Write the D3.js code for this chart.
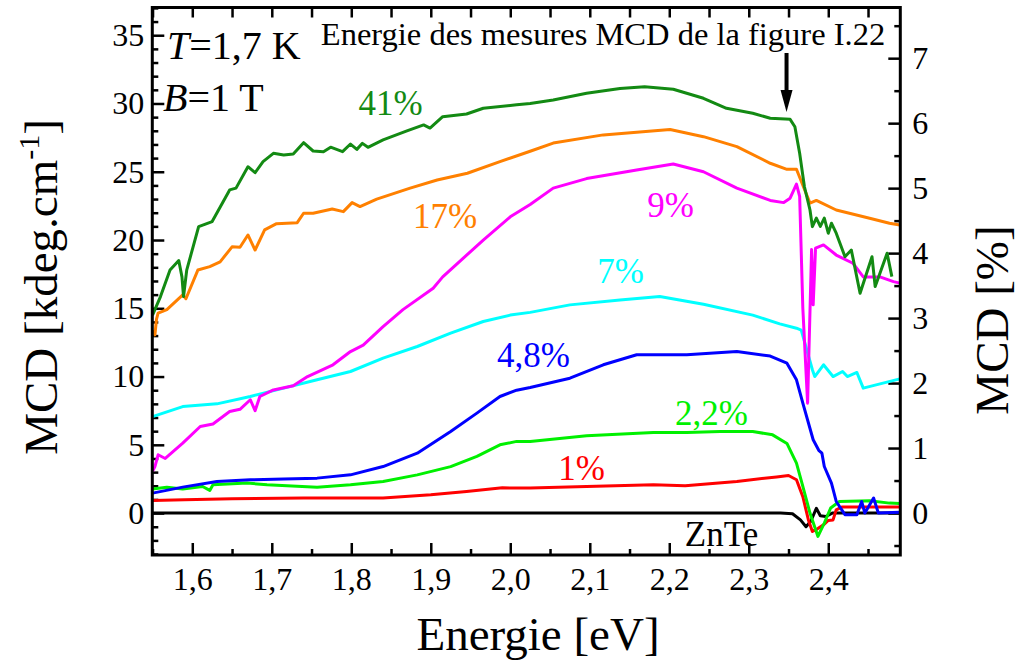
<!DOCTYPE html>
<html><head><meta charset="utf-8">
<script src="https://cdn.jsdelivr.net/npm/d3@7"></script>
<style>
html,body{margin:0;padding:0;background:#fff;}
svg{display:block;}
text{font-family:"Liberation Serif","Times New Roman",serif;fill:#000;}
</style></head>
<body><svg id="c" width="1017" height="664"></svg>
<script>
// ---------- data ----------
const xTicks = [1.6,1.7,1.8,1.9,2.0,2.1,2.2,2.3,2.4];
const xTickLabels = ["1,6","1,7","1,8","1,9","2,0","2,1","2,2","2,3","2,4"];
const yTicksLeft = [0,5,10,15,20,25,30,35];
const yTicksRight = [0,1,2,3,4,5,6,7];

const eZnTe = [1.55,2.34,2.355,2.365,2.372,2.378,2.385,2.39,2.397,2.405,2.49];
const vZnTe = [0,0,-0.05,-0.5,-1.0,-0.6,0.35,-0.2,-0.25,0,0];

const e1 = [1.55,1.59,1.65,1.74,1.84,1.9,1.945,1.99,2.025,2.096,2.18,2.22,2.285,2.335,2.35,2.36,2.368,2.375,2.38,2.386,2.394,2.40,2.406,2.41,2.417,2.49];
const v1 = [0.92,0.97,1.05,1.1,1.1,1.34,1.58,1.85,1.83,1.95,2.07,2.0,2.32,2.65,2.75,2.44,1.2,-0.5,-1.35,-1.17,-0.86,-0.54,-0.5,0.24,0.44,0.44];

const e22 = [1.55,1.568,1.588,1.613,1.622,1.626,1.669,1.694,1.757,1.799,1.84,1.883,1.925,1.958,1.987,2.008,2.025,2.096,2.18,2.222,2.264,2.305,2.33,2.348,2.36,2.368,2.377,2.387,2.395,2.403,2.414,2.452,2.477,2.49];
const v22 = [1.76,1.9,1.76,1.95,1.66,2.07,2.2,2.07,1.9,2.07,2.32,2.8,3.4,4.15,5.0,5.25,5.25,5.66,5.9,5.9,5.98,5.98,5.73,5.1,3.66,1.95,0,-1.71,-0.73,0.37,0.85,0.9,0.73,0.7];

const e48 = [1.55,1.588,1.631,1.673,1.715,1.757,1.799,1.84,1.883,1.925,1.958,1.987,2.008,2.025,2.075,2.117,2.159,2.222,2.285,2.327,2.348,2.36,2.368,2.381,2.388,2.392,2.395,2.404,2.41,2.417,2.421,2.436,2.442,2.446,2.457,2.463,2.49];
const v48 = [1.46,1.9,2.32,2.44,2.49,2.56,2.8,3.41,4.39,5.98,7.32,8.54,9.0,9.2,9.88,10.86,11.6,11.6,11.83,11.5,10.98,9.76,8.05,5.37,4.6,4.39,3.41,2.2,0.85,0.24,-0.12,-0.12,0.85,0,1.1,0,0.07];

const e7 = [1.55,1.588,1.631,1.673,1.715,1.757,1.799,1.84,1.883,1.925,1.966,2.0,2.025,2.075,2.138,2.188,2.243,2.305,2.339,2.36,2.366,2.38,2.383,2.394,2.406,2.418,2.424,2.436,2.444,2.49];
const v7 = [7.07,7.8,8.0,8.54,9.15,9.76,10.37,11.35,12.2,13.18,14.03,14.5,14.7,15.25,15.6,15.86,15.3,14.5,13.86,13.54,13.4,10.5,10.0,10.86,10.0,10.37,10.0,10.3,9.15,9.83];

const e9 = [1.55,1.553,1.557,1.566,1.588,1.61,1.626,1.647,1.66,1.673,1.679,1.685,1.702,1.727,1.745,1.777,1.799,1.815,1.84,1.865,1.903,1.915,1.966,2.0,2.025,2.054,2.096,2.159,2.205,2.243,2.285,2.327,2.344,2.352,2.36,2.364,2.368,2.374,2.379,2.381,2.384,2.394,2.41,2.431,2.444,2.465,2.482,2.49];
const v9 = [3.05,3.4,4.27,4.0,5.12,6.34,6.53,7.44,7.6,8.3,7.5,8.54,9.02,9.32,10.0,10.86,11.83,12.3,13.66,14.9,16.47,17.3,20.0,21.7,22.6,23.8,24.5,25.13,25.57,25.0,23.8,22.9,22.74,23.06,24.1,23.2,15,8.05,19.3,15.25,19.4,19.64,18.9,18.3,17.3,17.3,16.95,16.84];

const e17 = [1.551,1.553,1.555,1.557,1.568,1.588,1.592,1.607,1.622,1.635,1.65,1.66,1.67,1.679,1.691,1.706,1.732,1.74,1.752,1.776,1.79,1.801,1.811,1.832,1.874,1.908,1.946,1.987,2.025,2.054,2.117,2.201,2.243,2.285,2.327,2.348,2.36,2.367,2.377,2.385,2.41,2.452,2.477,2.49];
const v17 = [13.4,13.05,14.2,14.64,14.9,15.98,15.7,17.8,18.05,18.4,19.5,19.47,20.37,19.27,20.74,21.2,21.27,21.96,21.96,22.27,22.08,22.74,22.45,22.99,23.8,24.4,24.89,25.74,26.5,27.1,27.7,28.1,27.57,26.84,25.62,25.18,25.18,24.16,22.7,22.9,22.2,21.6,21.23,21.1];

const e41 = [1.55,1.56,1.572,1.583,1.587,1.589,1.593,1.608,1.625,1.647,1.655,1.67,1.679,1.689,1.702,1.715,1.727,1.74,1.752,1.765,1.774,1.789,1.799,1.807,1.814,1.821,1.84,1.87,1.891,1.899,1.915,1.945,1.966,2.008,2.025,2.054,2.096,2.138,2.169,2.205,2.243,2.272,2.305,2.327,2.352,2.358,2.364,2.37,2.377,2.38,2.385,2.39,2.395,2.40,2.404,2.41,2.421,2.429,2.44,2.455,2.459,2.474,2.48];
const v41 = [14.5,15.86,17.8,18.5,17.3,15.86,17.8,20.98,21.35,23.67,23.8,25.37,24.93,25.74,26.35,26.23,26.3,27.13,26.52,26.47,26.8,26.47,27.03,26.64,27.08,26.79,27.33,27.99,28.43,28.2,29.03,29.23,29.65,29.9,30.0,30.26,30.75,31.1,31.23,31.04,30.38,29.65,29.28,28.92,28.84,28.3,26.35,23.9,22.2,20.98,21.6,21.0,21.6,20.5,21.23,20.5,18.78,19.27,16.1,18.78,16.59,19.03,17.32];

const seriesNames = ["ZnTe","1%","2,2%","4,8%","7%","9%","17%","41%"];
const seriesColors = ["#000000","#ff0000","#00f000","#0000ff","#00ffff","#ff00ff","#ff8000","#138a13"];
const seriesE = [eZnTe,e1,e22,e48,e7,e9,e17,e41];
const seriesV = [vZnTe,v1,v22,v48,v7,v9,v17,v41];
const labelE = [2.2657,2.0896,2.253,2.029,2.1386,2.2015,1.918,1.8493];
const labelV = [-2.44,2.44,6.46,10.71,16.86,21.71,20.89,29.16];

// ---------- layout ----------
const FONT = '"Liberation Serif","Times New Roman",serif';
const svg = d3.select("#c");
const L = 152.3, R = 900.3, T = 7.5, B = 555;
const x = d3.scaleLinear().domain([1.5497, 2.4906]).range([L, R]);
const y = d3.scaleLinear().domain([-3.07, 37.03]).range([B, T]);
const y2 = d3.scaleLinear().domain([-0.646, 7.78]).range([B, T]);

const allX = d3.range(1.55, 2.491, 0.05).map(v => +v.toFixed(2));
const minorX = allX.filter(v => !xTicks.some(t => Math.abs(t - v) < 1e-6));
const minorY = d3.range(-3, 37.01, 1).filter(v => v % 5 !== 0);
const minorY2 = d3.range(-0.5, 7.6, 1);

const fs = 32;
const gB = svg.append("g").attr("transform", `translate(0,${B})`);
gB.call(d3.axisBottom(x).tickValues(xTicks).tickFormat((d,i) => xTickLabels[i]).tickSize(-12).tickPadding(12));
gB.append("g").call(d3.axisBottom(x).tickValues(minorX).tickFormat("").tickSize(-6));
const gT = svg.append("g").attr("transform", `translate(0,${T})`);
gT.call(d3.axisTop(x).tickValues(allX).tickFormat("").tickSize(-10));
const gL = svg.append("g").attr("transform", `translate(${L},0)`);
gL.call(d3.axisLeft(y).tickValues(yTicksLeft).tickFormat(d3.format("d")).tickSize(-12).tickPadding(8));
gL.append("g").call(d3.axisLeft(y).tickValues(minorY).tickFormat("").tickSize(-6));
const gR = svg.append("g").attr("transform", `translate(${R},0)`);
gR.call(d3.axisRight(y2).tickValues(yTicksRight).tickFormat(d3.format("d")).tickSize(-12).tickPadding(12));
gR.append("g").call(d3.axisRight(y2).tickValues(minorY2).tickFormat("").tickSize(-6));

svg.selectAll(".domain").remove();
svg.selectAll(".tick line").attr("stroke", "#000").attr("stroke-width", 2.5);
svg.selectAll(".tick text").style("font-size", fs + "px").style("font-family", FONT).attr("fill", "#000");

const line = d3.line().x(d => x(d[0])).y(d => y(d[1]));
const plot = svg.append("g");
seriesNames.forEach((n, i) => {
  const pts = seriesE[i].map((e, j) => [e, seriesV[i][j]]);
  plot.append("path").attr("d", line(pts)).attr("fill", "none")
    .attr("stroke", seriesColors[i]).attr("stroke-width", 3).attr("stroke-linejoin", "round");
});

svg.append("rect").attr("x", L).attr("y", T).attr("width", R - L).attr("height", B - T)
  .attr("fill", "none").attr("stroke", "#000").attr("stroke-width", 3);

seriesNames.forEach((n, i) => {
  svg.append("text").attr("x", x(labelE[i])).attr("y", y(labelV[i]))
    .attr("text-anchor", "middle").style("font-size", "35px").style("font-family", FONT)
    .style("fill", seriesColors[i]).text(n);
});

const tT = svg.append("text").attr("x", 167).attr("y", 59).style("font-size", "40px").style("font-family", FONT);
tT.append("tspan").style("font-style", "italic").text("T");
tT.append("tspan").text("=1,7 K");
const tB = svg.append("text").attr("x", 163).attr("y", 111).style("font-size", "40px").style("font-family", FONT);
tB.append("tspan").style("font-style", "italic").text("B");
tB.append("tspan").text("=1 T");

svg.append("text").attr("x", 603).attr("y", 45).attr("text-anchor", "middle")
  .style("font-size", "32.5px").style("font-family", FONT).text("Energie des mesures MCD de la figure I.22");

const ax = x(2.3475);
svg.append("line").attr("x1", ax).attr("x2", ax).attr("y1", 53).attr("y2", 96)
  .attr("stroke", "#000").attr("stroke-width", 4);
svg.append("path").attr("d", `M${ax-6},${90} L${ax+6},${90} L${ax},${112} Z`).attr("fill", "#000");

svg.append("text").attr("x", 538).attr("y", 650).attr("text-anchor", "middle")
  .style("font-size", "47px").style("font-family", FONT).text("Energie [eV]");
const lt = svg.append("text").attr("transform", "translate(57,287) rotate(-90)")
  .attr("text-anchor", "middle").style("font-size", "47px").style("font-family", FONT);
lt.append("tspan").text("MCD [kdeg.cm");
lt.append("tspan").attr("dy", -18).style("font-size", "30px").text("-1");
lt.append("tspan").attr("dy", 18).text("]");
svg.append("text").attr("transform", "translate(1008,320) rotate(-90)")
  .attr("text-anchor", "middle").style("font-size", "47px").style("font-family", FONT).text("MCD [%]");
</script></body></html>
